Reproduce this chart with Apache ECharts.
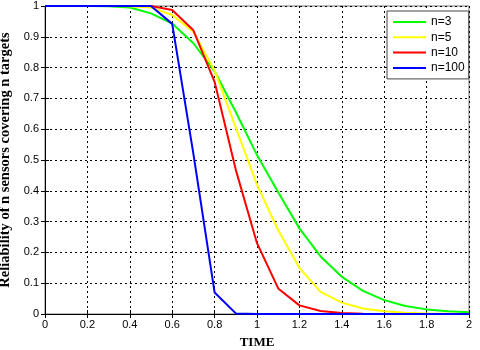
<!DOCTYPE html>
<html>
<head>
<meta charset="utf-8">
<script src="https://cdn.jsdelivr.net/npm/echarts@6/dist/echarts.min.js"></script>
<style>html,body{margin:0;padding:0;background:#fff}#c{width:480px;height:350px}</style>
</head>
<body>
<div id="c"></div>
<script>
var times = [0, 0.1, 0.2, 0.3, 0.4, 0.5, 0.6, 0.7, 0.8, 0.9, 1.0, 1.1, 1.2, 1.3, 1.4, 1.5, 1.6, 1.7, 1.8, 1.9, 2.0];
var n3   = [1, 1, 1, 0.999, 0.995, 0.976, 0.943, 0.879, 0.788, 0.656, 0.516, 0.395, 0.278, 0.187, 0.121, 0.075, 0.045, 0.026, 0.015, 0.009, 0.006];
var n5   = [1, 1, 1, 1, 0.999, 0.995, 0.971, 0.916, 0.790, 0.605, 0.420, 0.272, 0.150, 0.072, 0.037, 0.018, 0.009, 0.004, 0.002, 0.001, 0.0];
var n10  = [1, 1, 1, 1, 1, 1, 0.987, 0.921, 0.754, 0.468, 0.230, 0.083, 0.028, 0.010, 0.003, 0.001, 0, 0, 0, 0, 0];
var n100 = [1, 1, 1, 1, 1, 1, 0.942, 0.52, 0.07, 0.002, 0, 0, 0, 0, 0, 0, 0, 0, 0, 0, 0];
var seriesNames = ['n=3', 'n=5', 'n=10', 'n=100'];
var seriesData = [n3, n5, n10, n100];
var colors = ['#00ff00', '#ffff00', '#ff0000', '#0000ff'];
var xTitle = 'TIME';
var yTitle = 'Reliability of n sensors covering n targets';

function pairs(ys) { return times.map(function (t, i) { return [t, ys[i]]; }); }

var chart = echarts.init(document.getElementById('c'), null, {renderer: 'canvas'});
var dash = {color: '#000', width: 1, type: [2, 3]};
var tickStyle = {show: true, inside: true, length: 4, lineStyle: {color: '#000'}};
chart.setOption({
  animation: false,
  backgroundColor: '#fff',
  grid: {left: 45, right: 11, top: 6, bottom: 36, containLabel: false, outerBoundsMode: 'none',
         show: true, borderColor: '#777', borderWidth: 1, backgroundColor: 'transparent'},
  legend: {
    data: seriesNames, orient: 'vertical', left: 387, top: 11,
    icon: 'rect',
    padding: [4, 4, 4, 6], itemWidth: 33, itemHeight: 2, itemGap: 1.3,
    backgroundColor: '#fff', borderColor: '#444', borderWidth: 1,
    textStyle: {fontFamily: 'Liberation Sans, Arial', fontSize: 12, color: '#000', lineHeight: 14}
  },
  xAxis: [{
    type: 'value', min: 0, max: 2, interval: 0.2,
    name: xTitle, nameLocation: 'middle', nameGap: 22,
    nameTextStyle: {fontFamily: 'Liberation Serif, Times New Roman', fontWeight: 'bold', fontSize: 13, color: '#000'},
    axisLine: {show: true, lineStyle: {color: '#000'}},
    axisTick: tickStyle,
    axisLabel: {fontFamily: 'Liberation Sans, Arial', fontSize: 11, color: '#000', margin: 5},
    splitLine: {show: true, lineStyle: dash}
  }, {
    type: 'value', min: 0, max: 2, interval: 0.2, position: 'top',
    axisLine: {show: false}, axisTick: tickStyle, axisLabel: {show: false}, splitLine: {show: false}
  }],
  yAxis: [{
    type: 'value', min: 0, max: 1, interval: 0.1,
    name: yTitle, nameLocation: 'middle', nameGap: 19, nameRotate: 90,
    nameTextStyle: {fontFamily: 'Liberation Serif, Times New Roman', fontWeight: 'bold', fontSize: 14.5, color: '#000'},
    axisLine: {show: true, lineStyle: {color: '#000'}},
    axisTick: tickStyle,
    axisLabel: {fontFamily: 'Liberation Sans, Arial', fontSize: 11, color: '#000', margin: 6},
    splitLine: {show: true, lineStyle: dash}
  }, {
    type: 'value', min: 0, max: 1, interval: 0.1, position: 'right',
    axisLine: {show: false}, axisTick: tickStyle, axisLabel: {show: false}, splitLine: {show: false}
  }],
  series: seriesNames.map(function (nm, i) {
    return {
      name: nm, type: 'line', data: pairs(seriesData[i]),
      symbol: 'none', color: colors[i],
      lineStyle: {color: colors[i], width: 2}
    };
  })
});
</script>
</body>
</html>
